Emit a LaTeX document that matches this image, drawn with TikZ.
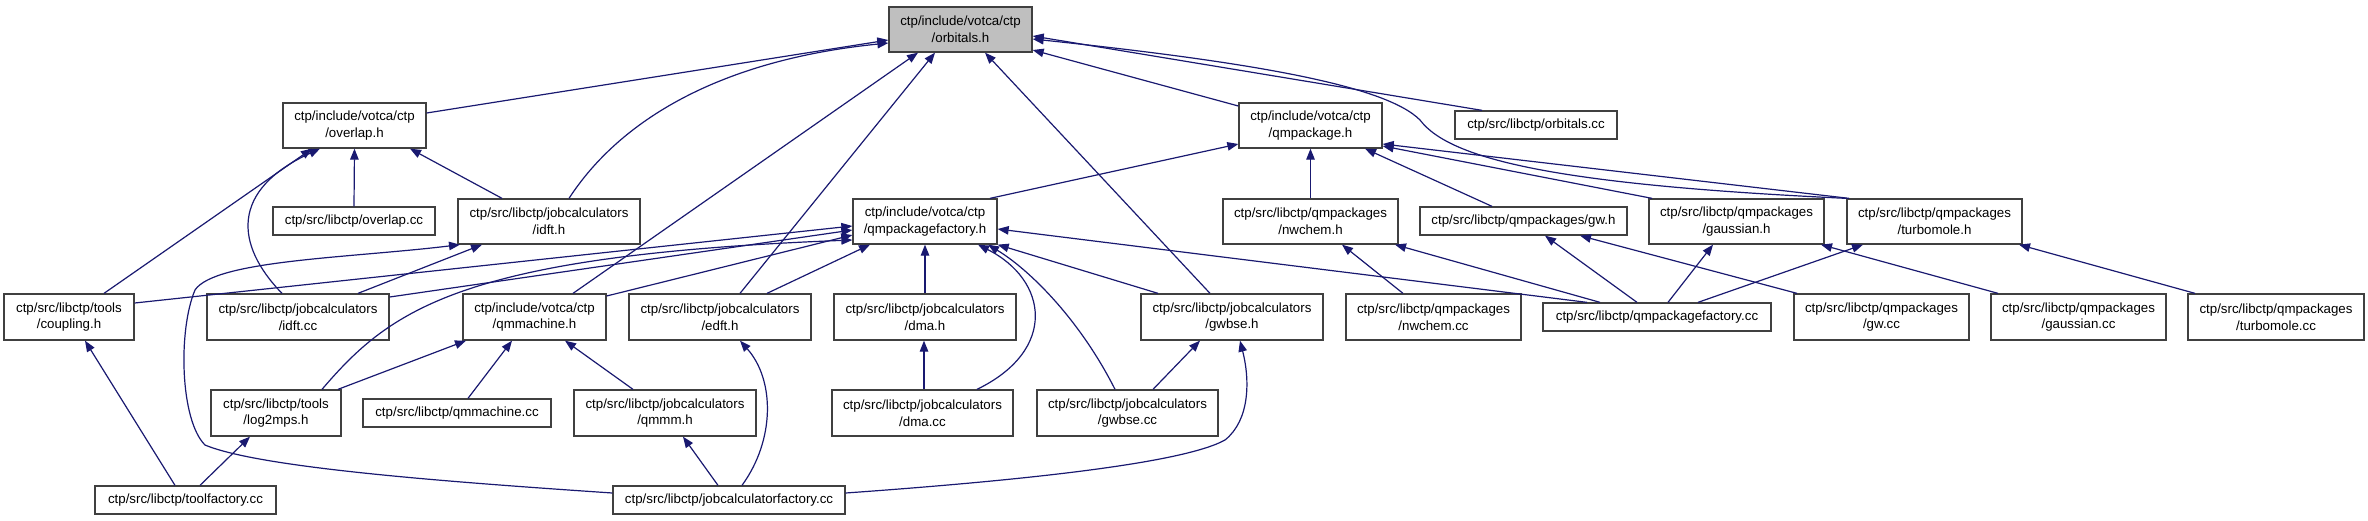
\documentclass[tikz,border=0pt]{standalone}
\usepackage{fontspec}
\setmainfont{Liberation Sans}
\usetikzlibrary{arrows.meta}
\definecolor{edgeblue}{HTML}{191970}
\definecolor{boxline}{HTML}{404040}
\definecolor{rootfill}{HTML}{BFBFBF}
\begin{document}
\begin{tikzpicture}[x=1pt,y=-1pt,
  fbox/.style={draw=boxline,line width=1.3pt,fill=white,rectangle,inner sep=0pt,align=center,
    font=\fontsize{13.3}{16.7}\selectfont},
  tall/.style={minimum height=45pt},
  flat/.style={minimum height=28pt},
  dep/.style={draw=edgeblue,line width=1.2pt,{Triangle[length=11pt,width=8.5pt]}-}]
\useasboundingbox (0,0) rectangle (2368,520);
% row 0
\node[fbox,tall,minimum width=143pt,fill=rootfill] (orb) at (960.5,29.5) {ctp/include/votca/ctp\\/orbitals.h};
% row 1
\node[fbox,tall,minimum width=143pt] (ovl) at (354.5,125.5) {ctp/include/votca/ctp\\/overlap.h};
\node[fbox,tall,minimum width=143pt] (qmp) at (1310.5,125.5) {ctp/include/votca/ctp\\/qmpackage.h};
\node[fbox,flat,minimum width=162pt] (orbcc) at (1536,125) {ctp/src/libctp/orbitals.cc};
% row 2
\node[fbox,flat,minimum width=162pt] (ovlcc) at (354,221) {ctp/src/libctp/overlap.cc};
\node[fbox,tall,minimum width=182pt] (idfth) at (549,221.5) {ctp/src/libctp/jobcalculators\\/idft.h};
\node[fbox,tall,minimum width=144pt] (qpf) at (925,221.5) {ctp/include/votca/ctp\\/qmpackagefactory.h};
\node[fbox,tall,minimum width=175pt] (nwh) at (1310.5,221.5) {ctp/src/libctp/qmpackages\\/nwchem.h};
\node[fbox,flat,minimum width=207pt] (gwh) at (1523.5,221) {ctp/src/libctp/qmpackages/gw.h};
\node[fbox,tall,minimum width=175pt] (gah) at (1736.5,221.5) {ctp/src/libctp/qmpackages\\/gaussian.h};
\node[fbox,tall,minimum width=175pt] (tuh) at (1934.5,221.5) {ctp/src/libctp/qmpackages\\/turbomole.h};
% row 3
\node[fbox,tall,minimum height=46pt,minimum width=130pt] (coup) at (69,317) {ctp/src/libctp/tools\\/coupling.h};
\node[fbox,tall,minimum height=46pt,minimum width=182pt] (idftcc) at (298,317) {ctp/src/libctp/jobcalculators\\/idft.cc};
\node[fbox,tall,minimum height=46pt,minimum width=143pt] (qmmh) at (534.5,317) {ctp/include/votca/ctp\\/qmmachine.h};
\node[fbox,tall,minimum height=46pt,minimum width=182pt] (edfth) at (720,317) {ctp/src/libctp/jobcalculators\\/edft.h};
\node[fbox,tall,minimum height=46pt,minimum width=182pt] (dmah) at (925,317) {ctp/src/libctp/jobcalculators\\/dma.h};
\node[fbox,tall,minimum height=46pt,minimum width=182pt] (gwbseh) at (1232,317) {ctp/src/libctp/jobcalculators\\/gwbse.h};
\node[fbox,tall,minimum height=46pt,minimum width=175pt] (nwcc) at (1433.5,317) {ctp/src/libctp/qmpackages\\/nwchem.cc};
\node[fbox,flat,minimum width=228pt] (qpfcc) at (1657,317) {ctp/src/libctp/qmpackagefactory.cc};
\node[fbox,tall,minimum height=46pt,minimum width=175pt] (gwcc) at (1881.5,317) {ctp/src/libctp/qmpackages\\/gw.cc};
\node[fbox,tall,minimum height=46pt,minimum width=175pt] (gacc) at (2078.5,317) {ctp/src/libctp/qmpackages\\/gaussian.cc};
\node[fbox,tall,minimum height=46pt,minimum width=176pt] (tucc) at (2276,317) {ctp/src/libctp/qmpackages\\/turbomole.cc};
% row 4
\node[fbox,tall,minimum height=46pt,minimum width=130pt] (log2) at (276,413) {ctp/src/libctp/tools\\/log2mps.h};
\node[fbox,flat,minimum width=188pt] (qmmcc) at (457,413) {ctp/src/libctp/qmmachine.cc};
\node[fbox,tall,minimum height=46pt,minimum width=182pt] (qmmm) at (665,413) {ctp/src/libctp/jobcalculators\\/qmmm.h};
\node[fbox,tall,minimum height=46pt,minimum width=181pt] (dmacc) at (922.5,413) {ctp/src/libctp/jobcalculators\\/dma.cc};
\node[fbox,tall,minimum height=46pt,minimum width=181pt] (gwbsecc) at (1127.5,413) {ctp/src/libctp/jobcalculators\\/gwbse.cc};
% row 5
\node[fbox,flat,minimum width=181pt] (toolf) at (185.5,500) {ctp/src/libctp/toolfactory.cc};
\node[fbox,flat,minimum width=232pt] (jcf) at (729,500) {ctp/src/libctp/jobcalculatorfactory.cc};

% edges into orbitals.h
\draw[dep] ([yshift=-10.5pt]orb.west) -- ([yshift=12.5pt]ovl.east);
\draw[dep] ([yshift=-13.5pt]orb.west) .. controls (720,60) and (620,120) .. ([xshift=20pt]idfth.north);
\draw[dep] ([xshift=-42.5pt]orb.south) -- ([xshift=38.5pt]qmmh.north);
\draw[dep] ([xshift=-25.5pt]orb.south) -- ([xshift=20pt]edfth.north);
\draw[dep] ([xshift=24.5pt]orb.south) -- ([xshift=-22pt]gwbseh.north);
\draw[dep] ([yshift=-20.5pt]orb.east) -- ([yshift=19.5pt]qmp.west);
\draw[dep] ([yshift=-6.5pt]orb.east) -- ([xshift=-54pt]orbcc.north);
\draw[dep] ([yshift=-9.5pt]orb.east) .. controls (1250,62) and (1385,85) .. (1420,120)
   .. controls (1450,160) and (1560,185) .. (tuh.north west);
% into overlap.h
\draw[dep] (ovl.south) -- (ovlcc.north);
\draw[dep] ([xshift=55.5pt]ovl.south) -- ([xshift=-47pt]idfth.north);
\draw[dep] ([xshift=-42.5pt]ovl.south) -- ([xshift=35pt]coup.north);
\draw[dep] ([xshift=-34.5pt]ovl.south) .. controls (230,190) and (235,245) .. ([xshift=-16pt]idftcc.north);
% into idft.h
\draw[dep] ([xshift=-67pt]idfth.south) -- ([xshift=60pt]idftcc.north);
\draw[dep] ([xshift=-89pt]idfth.south) .. controls (350,258) and (215,260) .. (195,290)
   .. controls (178,330) and (180,420) .. (205,445)
   .. controls (260,468) and (450,482) .. ([yshift=7pt]jcf.west);
% into qmpackagefactory.h
\draw[dep] ([yshift=-4.5pt]qpf.west) -- ([yshift=14pt]coup.east);
\draw[dep] ([yshift=-8.5pt]qpf.west) -- ([yshift=20pt]idftcc.east);
\draw[dep] ([yshift=-18.5pt]qpf.west) .. controls (460,255) and (390,310) .. ([xshift=46pt]log2.north);
\draw[dep] ([yshift=-13.5pt]qpf.west) -- ([yshift=21pt]qmmh.east);
\draw[dep] ([xshift=-55pt]qpf.south) -- ([xshift=47pt]edfth.north);
\draw[dep] (qpf.south) -- (dmah.north);
\draw[dep] ([xshift=53pt]qpf.south) .. controls (1048,280) and (1058,350) .. ([xshift=54.5pt]dmacc.north);
\draw[dep] ([xshift=63pt]qpf.south) .. controls (1030,270) and (1080,320) .. ([xshift=-12.5pt]gwbsecc.north);
\draw[dep] (qpf.south east) -- ([xshift=-74pt]gwbseh.north);
\draw[dep] ([yshift=-7.5pt]qpf.east) -- ([xshift=-70pt]qpfcc.north);
% into qmpackage.h
\draw[dep] ([yshift=-18.5pt]qmp.west) -- ([xshift=65pt]qpf.north);
\draw[dep] (qmp.south) -- (nwh.north);
\draw[dep] ([xshift=54.5pt]qmp.south) -- ([xshift=-31.5pt]gwh.north);
\draw[dep] ([yshift=-20.5pt]qmp.east) -- ([xshift=-84.5pt]gah.north);
\draw[dep] ([yshift=-18.5pt]qmp.east) -- ([xshift=-85.5pt]tuh.north);
% into qmpackages headers
\draw[dep] ([xshift=31.5pt]nwh.south) -- ([xshift=-30.5pt]nwcc.north);
\draw[dep] ([xshift=84.5pt]nwh.south) -- ([xshift=-57pt]qpfcc.north);
\draw[dep] ([xshift=21.5pt]gwh.south) -- ([xshift=-20pt]qpfcc.north);
\draw[dep] ([xshift=56.5pt]gwh.south) -- ([xshift=-84.5pt]gwcc.north);
\draw[dep] ([xshift=-23.5pt]gah.south) -- ([xshift=11pt]qpfcc.north);
\draw[dep] ([xshift=84.5pt]gah.south) -- ([xshift=-80.5pt]gacc.north);
\draw[dep] ([xshift=-71.5pt]tuh.south) -- ([xshift=41pt]qpfcc.north);
\draw[dep] ([xshift=84.5pt]tuh.south) -- ([xshift=-81pt]tucc.north);
% lower part
\draw[dep] ([xshift=16pt]coup.south) -- ([xshift=-10.5pt]toolf.north);
\draw[dep] ([xshift=-26pt]log2.south) -- ([xshift=14.5pt]toolf.north);
\draw[dep] ([xshift=-68.5pt]qmmh.south) -- ([xshift=62pt]log2.north);
\draw[dep] ([xshift=-22.5pt]qmmh.south) -- ([xshift=11pt]qmmcc.north);
\draw[dep] ([xshift=30.5pt]qmmh.south) -- ([xshift=-32pt]qmmm.north);
\draw[dep] ([xshift=18pt]qmmm.south) -- ([xshift=-11pt]jcf.north);
\draw[dep] ([xshift=20pt]edfth.south) .. controls (775,380) and (775,440) .. ([xshift=13pt]jcf.north);
\draw[dep] ([xshift=-1pt]dmah.south) -- ([xshift=1.5pt]dmacc.north);
\draw[dep] ([xshift=-32pt]gwbseh.south) -- ([xshift=25.5pt]gwbsecc.north);
\draw[dep] ([xshift=8pt]gwbseh.south) .. controls (1250,380) and (1250,420) .. (1225,440)
   .. controls (1180,465) and (1000,482) .. ([yshift=7pt]jcf.east);
\end{tikzpicture}
\end{document}
